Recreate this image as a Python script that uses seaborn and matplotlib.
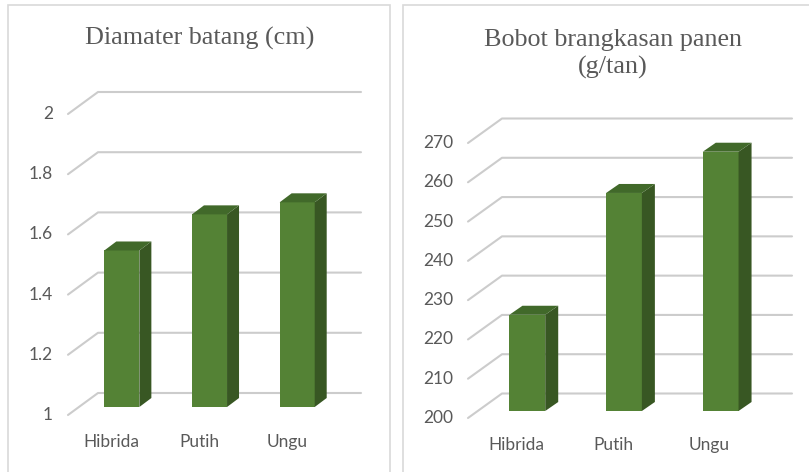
import matplotlib
matplotlib.use("Agg")
import matplotlib.pyplot as plt
import seaborn as sns
import pandas as pd
from matplotlib.lines import Line2D
from matplotlib.patches import Polygon, Rectangle
from matplotlib.transforms import IdentityTransform

# data
jenis = ["Hibrida", "Putih", "Ungu"]
diameter = [1.52, 1.64, 1.68]
bobot = [224.5, 255.5, 266.0]
diameter_ticks = [1, 1.2, 1.4, 1.6, 1.8, 2]
bobot_ticks = [200, 210, 220, 230, 240, 250, 260, 270]

sns.set_theme(style="white")
plt.rcParams["font.family"] = ["Lato", "DejaVu Sans"]

GREEN = "#548235"
SIDE = "#385723"
TOP = "#41692a"
GRID = "#cccccc"
TXT = "#595959"

W, H = 809, 472
fig = plt.figure(figsize=(W / 100, H / 100), dpi=100)
fig.patch.set_facecolor("white")

# panel frames
fig.add_artist(Rectangle((8 / W, -0.05), (390 - 8) / W, 1 - 5 / H + 0.05,
                         transform=fig.transFigure, fill=False,
                         edgecolor="#d9d9d9", lw=1.2))
fig.add_artist(Rectangle((403 / W, -0.05), 0.6, 1 - 5 / H + 0.05,
                         transform=fig.transFigure, fill=False,
                         edgecolor="#d9d9d9", lw=1.2))


def panel(rect_px, values, ticks, width, back, front, depth):
    l, t, r, b = rect_px
    ax = fig.add_axes([l / W, (H - b) / H, (r - l) / W, (b - t) / H])
    df = pd.DataFrame({"jenis": jenis, "nilai": values})
    sns.barplot(data=df, x="jenis", y="nilai", ax=ax, color=GREEN,
                saturation=1, width=width, edgecolor="none", zorder=2)
    ax.set_xlim(-0.5, 2.5)
    ax.set_ylim(ticks[0], ticks[-1])
    ax.set_axis_off()
    T = ax.transData
    ident = IdentityTransform()

    # 3d-style gridlines: front edge -> back wall -> across
    for v in ticks:
        p = T.transform([(-0.5, v), (2.5, v)])
        xs = [p[0, 0] + front[0], p[0, 0] + back[0], p[1, 0] + back[0]]
        ys = [p[0, 1] + front[1], p[0, 1] + back[1], p[1, 1] + back[1]]
        ax.add_line(Line2D(xs, ys, transform=ident, color=GRID, lw=1.5,
                           zorder=0, clip_on=False))
        ax.text(xs[0] - 15, ys[0], f"{v:g}", transform=ident, ha="right",
                va="center", fontsize=12.5, color=TXT)

    # side and top faces of the columns
    dx, dy = depth
    for bar in ax.patches:
        x, w, h = bar.get_x(), bar.get_width(), bar.get_height()
        x0, y0 = T.transform((x, ticks[0]))
        x1, y1 = T.transform((x + w, h))
        side = [(x1, y0), (x1, y1), (x1 + dx, y1 + dy), (x1 + dx, y0 + dy)]
        top = [(x0, y1), (x1, y1), (x1 + dx, y1 + dy), (x0 + dx, y1 + dy)]
        ax.add_patch(Polygon(side, closed=True, transform=ident,
                             facecolor=SIDE, edgecolor="none", zorder=2,
                             clip_on=False))
        ax.add_patch(Polygon(top, closed=True, transform=ident,
                             facecolor=TOP, edgecolor="none", zorder=2,
                             clip_on=False))

    for i, name in enumerate(jenis):
        px, py = T.transform((i, ticks[0]))
        ax.text(px + front[0], py + front[1] - 27, name, transform=ident,
                ha="center", va="center", fontsize=12.5, color=TXT)
    return ax


panel((78, 106, 341, 407), diameter, diameter_ticks, 0.4,
      back=(20, 14), front=(-10, -8), depth=(12, 9))
panel((479, 136, 769, 411), bobot, bobot_ticks, 0.37,
      back=(23, 17.5), front=(-11, -7), depth=(13, 9))

fig.text(200 / W, 1 - 38 / H, "Diamater batang (cm)", ha="center",
         va="center", family="Liberation Serif", fontsize=18.8, color=TXT)
fig.text(613 / W, 1 - 54 / H, "Bobot brangkasan panen\n(g/tan)", ha="center",
         va="center", family="Liberation Serif", fontsize=18.8, color=TXT,
         linespacing=1.25)

fig.savefig("out.png", dpi=100, facecolor="white")
